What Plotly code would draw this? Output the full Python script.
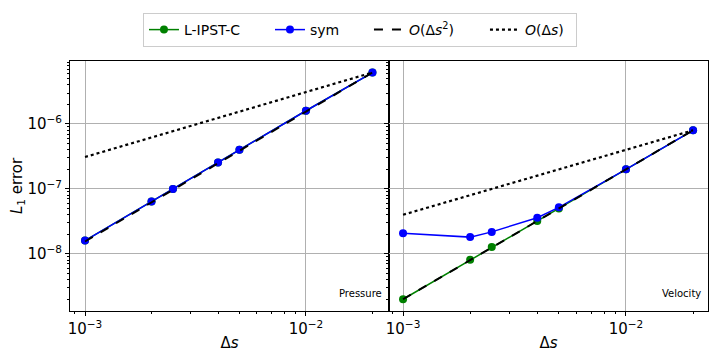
import plotly.graph_objects as go
from plotly.subplots import make_subplots

# grid spacings
ds = [0.001, 0.002, 0.0025, 0.004, 0.005, 0.01, 0.02]

# pressure errors (the two schemes overlap)
p_lipst = [1.6e-8, 6.4e-8, 1.0e-7, 2.55e-7, 4.0e-7, 1.6e-6, 6.2e-6]
p_sym = [1.6e-8, 6.4e-8, 1.0e-7, 2.55e-7, 4.0e-7, 1.6e-6, 6.2e-6]

# velocity errors
v_lipst = [2.0e-9, 8.1e-9, 1.27e-8, 3.2e-8, 5.0e-8, 2.0e-7, 8.0e-7]
v_sym = [2.08e-8, 1.81e-8, 2.18e-8, 3.6e-8, 5.2e-8, 2.0e-7, 8.0e-7]

# reference slopes, end points only
ref_ds = [0.001, 0.02]
p_order2 = [1.55e-8, 6.2e-6]
p_order1 = [3.1e-7, 6.2e-6]
v_order2 = [2.0e-9, 8.0e-7]
v_order1 = [4.0e-8, 8.0e-7]

FONT = "DejaVu Sans"
GREEN = "green"
BLUE = "blue"

fig = make_subplots(rows=1, cols=2, shared_yaxes=True, horizontal_spacing=0)

panels = [(1, p_lipst, p_sym, p_order2, p_order1), (2, v_lipst, v_sym, v_order2, v_order1)]
for col, lip, sym, o2, o1 in panels:
    show = col == 1
    fig.add_trace(go.Scatter(x=ds, y=lip, mode="lines+markers", name="L-IPST-C",
                             line=dict(color=GREEN, width=1.5), marker=dict(size=8, color=GREEN),
                             showlegend=show, legendwidth=81), row=1, col=col)
    fig.add_trace(go.Scatter(x=ds, y=sym, mode="lines+markers", name="sym",
                             line=dict(color=BLUE, width=1.5), marker=dict(size=8, color=BLUE),
                             showlegend=show, legendwidth=54), row=1, col=col)
    fig.add_trace(go.Scatter(x=ref_ds, y=o2, mode="lines", name="<i>O</i>(Δ<i>s</i><sup>2</sup>)",
                             line=dict(color="black", width=2, dash="dash"),
                             showlegend=show, legendwidth=71), row=1, col=col)
    fig.add_trace(go.Scatter(x=ref_ds, y=o1, mode="lines", name="<i>O</i>(Δ<i>s</i>)",
                             line=dict(color="black", width=2.2, dash="dot"),
                             showlegend=show, legendwidth=46), row=1, col=col)

xminor = [k * 10 ** e for e in (-4, -3, -2) for k in range(2, 10)]
yminor = [k * 10 ** e for e in (-10, -9, -8, -7, -6, -5) for k in range(2, 10)]

axis_common = dict(
    type="log", showline=True, linecolor="black", linewidth=1, mirror=True,
    ticks="outside", ticklen=4, tickcolor="black",
    showgrid=True, gridcolor="#b0b0b0", gridwidth=0.8,
    tickfont=dict(family=FONT, size=15, color="black"),
    zeroline=False, automargin=False,
)

xticks = [1e-3, 1e-2]
xtext = ["10<sup>−3</sup>", "10<sup>−2</sup>"]
yticks = [1e-8, 1e-7, 1e-6]
ytext = ["10<sup>−8</sup>", "10<sup>−7</sup>", "10<sup>−6</sup>"]

fig.update_xaxes(axis_common, tickvals=xticks, ticktext=xtext,
                 minor=dict(ticks="outside", ticklen=2, tickcolor="black", tickvals=xminor, showgrid=False),
                 title=dict(text="Δ<i>s</i>", font=dict(family=FONT, size=15, color="black"), standoff=8))
fig.update_xaxes(range=[-3.068, -1.624], row=1, col=1)
fig.update_xaxes(range=[-3.063, -1.632], row=1, col=2)

fig.update_yaxes(axis_common, tickvals=yticks, ticktext=ytext, range=[-8.88, -5.03],
                 minor=dict(ticks="outside", ticklen=2, tickcolor="black", tickvals=yminor, showgrid=False))
fig.update_yaxes(title=dict(text="<i>L</i><sub>1</sub> error", font=dict(family=FONT, size=15, color="black"),
                            standoff=11), row=1, col=1)
fig.update_yaxes(showticklabels=False, row=1, col=2)

fig.add_annotation(text="Pressure", xref="x domain", yref="y domain", x=0.985, y=0.07,
                   xanchor="right", yanchor="middle", showarrow=False,
                   font=dict(family=FONT, size=10, color="black"))
fig.add_annotation(text="Velocity", xref="x2 domain", yref="y2 domain", x=0.985, y=0.07,
                   xanchor="right", yanchor="middle", showarrow=False,
                   font=dict(family=FONT, size=10, color="black"))

# page body adds an 8px margin, so the figure is sized to fit inside it
fig.update_layout(
    width=704, height=344,
    margin=dict(l=62, r=4, t=53, b=41),
    paper_bgcolor="white", plot_bgcolor="white",
    font=dict(family=FONT, size=14, color="black"),
    legend=dict(orientation="h", x=0.4545, xanchor="center", y=1.192, yanchor="top",
                bordercolor="#cccccc", borderwidth=1, font=dict(family=FONT, size=14),
                itemwidth=30, tracegroupgap=0),
)

fig.write_html("out.html")
